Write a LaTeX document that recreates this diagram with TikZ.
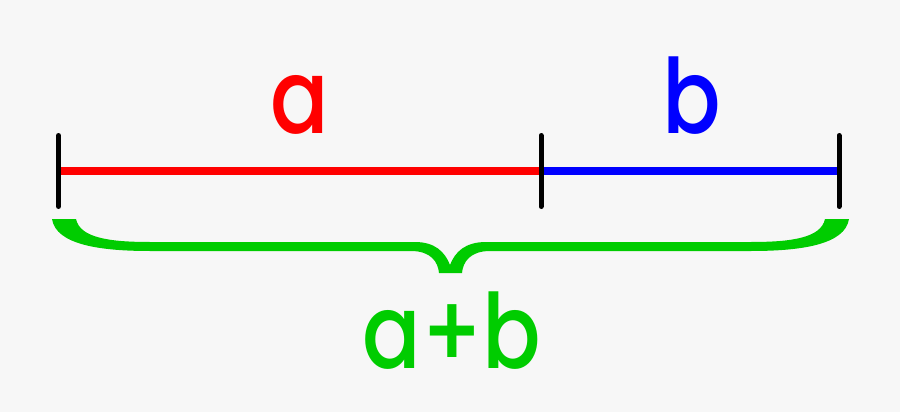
\documentclass[tikz,border=0pt]{standalone}
\usepackage{fontspec}
\setmainfont{Poppins}
\newfontfamily\labelfont{Poppins Medium}
\usetikzlibrary{calc}
\definecolor{bggray}{HTML}{F7F7F7}
\definecolor{bracegreen}{RGB}{0,204,0}
\newcommand{\segtick}[1]{ \draw[black, line width=5, line cap=round] ($ (#1) + (0,-35.5) $) -- ($ (#1) + (0,35.5) $);}
\newcommand{\seglabel}[4]{ \node[#1, anchor=base, inner sep=0pt, xscale=0.9, yscale=1.08, font={\labelfont\fontsize{96}{110}\selectfont}] (#2) at ( #3 , #4 ) {#2};}

\begin{document}
\begin{tikzpicture}[x=1pt,y=-1pt]
    % background
    \fill[bggray] (0,0) rectangle (900,412);
    % points
    \coordinate (A) at (58.5,171);
    \coordinate (M) at (541,171);
    \coordinate (B) at (839,171);
    % segments
    \draw[red, line width=8.5] (A) -- (M);
    \draw[blue, line width=8.5] (M) -- (B);
    \segtick{A}
    \segtick{M}
    \segtick{B}
    % labels
    \seglabel{red}{a}{300}{133}
    \seglabel{blue}{b}{692}{133}
    \seglabel{bracegreen}{a+b}{452}{368}
    % brace
    \fill[bracegreen] (52,219) -- (76,219) .. controls (80,238) and (110,242) .. (150,242)
        -- (415,242) .. controls (435,242) and (445,252) .. (450,265)
        .. controls (455,252) and (465,242) .. (486,242)
        -- (751,242) .. controls (791,242) and (821,238) .. (825,219)
        -- (849,219) .. controls (845,245) and (800,251) .. (751,251)
        -- (490,251) .. controls (470,251) and (463,262) .. (462,273)
        -- (439,273) .. controls (438,262) and (431,251) .. (411,251)
        -- (150,251) .. controls (101,251) and (56,245) .. (52,219) -- cycle;
\end{tikzpicture}
\end{document}
